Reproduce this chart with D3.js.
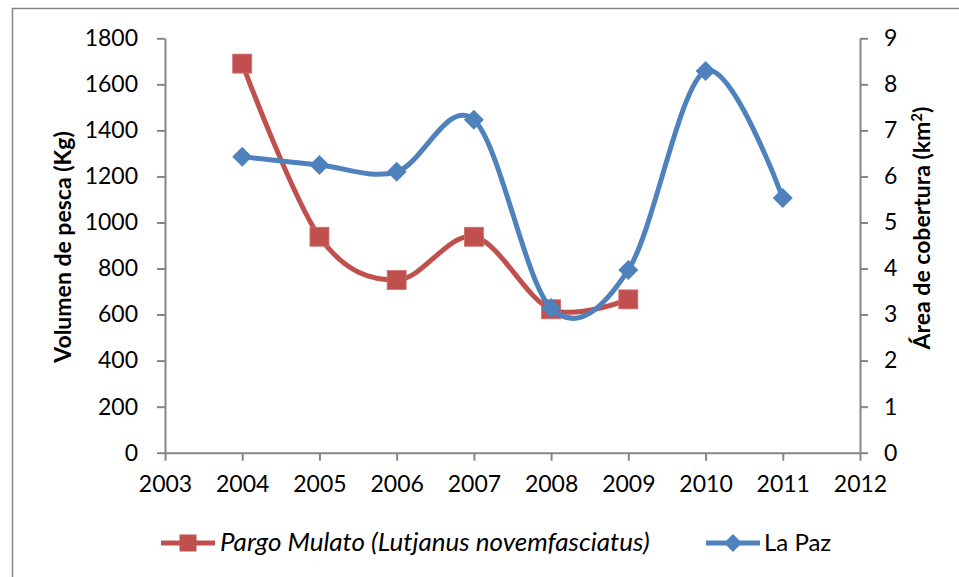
<!DOCTYPE html>
<html>
<head>
<meta charset="utf-8">
<script src="https://cdn.jsdelivr.net/npm/d3@7"></script>
<style>
  body { margin: 0; background: #fff; }
  svg { display: block; font-family: Lato, "Open Sans", sans-serif; }
</style>
</head>
<body>
<div id="chart"></div>
<script>
// values
var years = [2004, 2005, 2006, 2007, 2008, 2009, 2010, 2011];
var pargo = [1690, 938, 750, 938, 623, 666];          // Kg, 2004-2009
var laPaz = [6.43, 6.25, 6.10, 7.23, 3.14, 3.97, 8.29, 5.53]; // km2
var leftTicks = [0, 200, 400, 600, 800, 1000, 1200, 1400, 1600, 1800];
var rightTicks = [0, 1, 2, 3, 4, 5, 6, 7, 8, 9];
var xTicks = [2003, 2004, 2005, 2006, 2007, 2008, 2009, 2010, 2011, 2012];

var W = 959, H = 577;
var red = '#C0504D', blue = '#4F81BD', axisCol = '#868686';

var svg = d3.select('#chart').append('svg')
    .attr('width', W).attr('height', H);

// chart border
svg.append('rect')
    .attr('x', 12.5).attr('y', 8.5)
    .attr('width', W).attr('height', H)
    .attr('fill', 'none').attr('stroke', axisCol).attr('stroke-width', 1.5);

var x = d3.scaleLinear().domain([2003, 2012]).range([165, 860]);
var yL = d3.scaleLinear().domain([0, 1800]).range([452.7, 38.3]);
var yR = d3.scaleLinear().domain([0, 9]).range([452.7, 38.3]);

function styleAxis(g) {
    g.select('.domain').attr('stroke', axisCol).attr('stroke-width', 2);
    g.selectAll('.tick line').attr('stroke', axisCol).attr('stroke-width', 2);
    g.selectAll('.tick text').attr('fill', '#000').style('font-size', '23px')
        .style('font-family', 'Lato, "Open Sans", sans-serif');
}

svg.append('g')
    .attr('transform', 'translate(' + x(2003) + ',0)')
    .call(d3.axisLeft(yL).tickValues(leftTicks).tickFormat(d3.format('d'))
        .tickSize(8).tickPadding(19).tickSizeOuter(0))
    .call(styleAxis);

svg.append('g')
    .attr('transform', 'translate(' + x(2012) + ',0)')
    .call(d3.axisRight(yR).tickValues(rightTicks).tickFormat(d3.format('d'))
        .tickSize(8).tickPadding(16).tickSizeOuter(0))
    .call(styleAxis);

svg.append('g')
    .attr('transform', 'translate(0,' + yL(0) + ')')
    .call(d3.axisBottom(x).tickValues(xTicks).tickFormat(d3.format('d'))
        .tickSize(8).tickPadding(15).tickSizeOuter(0))
    .call(styleAxis);

// axis titles
svg.append('text')
    .attr('transform', 'translate(71,247) rotate(-90)')
    .attr('text-anchor', 'middle')
    .style('font-size', '23px').style('font-weight', 'bold')
    .text('Volumen de pesca (Kg)');

var rt = svg.append('text')
    .attr('transform', 'translate(930,228) rotate(-90)')
    .attr('text-anchor', 'middle')
    .style('font-size', '23px').style('font-weight', 'bold');
rt.append('tspan').text('Área de cobertura (km');
rt.append('tspan').attr('dy', -8).style('font-size', '15px').text('2');
rt.append('tspan').attr('dy', 8).text(')');

var smooth = d3.curveCardinal.tension(0);

var pargoData = pargo.map(function(v, i) { return [years[i], v]; });
var pazData = laPaz.map(function(v, i) { return [years[i], v]; });

// Pargo series
svg.append('path')
    .datum(pargoData)
    .attr('fill', 'none').attr('stroke', red).attr('stroke-width', 5)
    .attr('d', d3.line().curve(smooth)
        .x(function(d) { return x(d[0]); })
        .y(function(d) { return yL(d[1]); }));

svg.selectAll('.sq').data(pargoData).enter().append('rect')
    .attr('class', 'sq')
    .attr('x', function(d) { return x(d[0]) - 9.5; })
    .attr('y', function(d) { return yL(d[1]) - 9.5; })
    .attr('width', 19).attr('height', 19)
    .attr('fill', red).attr('stroke', '#d0706d').attr('stroke-width', 0.8);

// La Paz series
svg.append('path')
    .datum(pazData)
    .attr('fill', 'none').attr('stroke', blue).attr('stroke-width', 5)
    .attr('d', d3.line().curve(smooth)
        .x(function(d) { return x(d[0]); })
        .y(function(d) { return yR(d[1]); }));

var diamond = 'M0,-10L10,0L0,10L-10,0Z';
svg.selectAll('.dm').data(pazData).enter().append('path')
    .attr('class', 'dm')
    .attr('transform', function(d) { return 'translate(' + x(d[0]) + ',' + yR(d[1]) + ')'; })
    .attr('d', diamond)
    .attr('fill', blue);

// legend
var lg = svg.append('g');
lg.append('line').attr('x1', 161).attr('x2', 215).attr('y1', 543).attr('y2', 543)
    .attr('stroke', red).attr('stroke-width', 5);
lg.append('rect').attr('x', 179.5).attr('y', 534.5).attr('width', 17).attr('height', 17)
    .attr('fill', red);
lg.append('text').attr('x', 220).attr('y', 551)
    .style('font-size', '26px').style('font-style', 'italic')
    .text('Pargo Mulato (Lutjanus novemfasciatus)');

lg.append('line').attr('x1', 706).attr('x2', 760).attr('y1', 543).attr('y2', 543)
    .attr('stroke', blue).attr('stroke-width', 5);
lg.append('path').attr('transform', 'translate(733,543)').attr('d', 'M0,-9L9,0L0,9L-9,0Z')
    .attr('fill', blue);
lg.append('text').attr('x', 764).attr('y', 551)
    .style('font-size', '24px')
    .text('La Paz');
</script>
</body>
</html>
